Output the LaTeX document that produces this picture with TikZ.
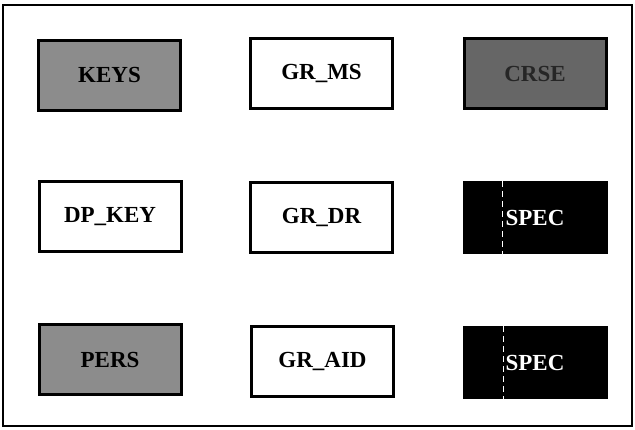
\documentclass[tikz,border=0pt]{standalone}
\usepackage{fontspec}
\setmainfont{Liberation Serif}
\usepackage{tikz}

\begin{document}
\begin{tikzpicture}[x=0.5pt, y=-0.5pt,
  block/.style={draw=black, line width=1.5pt, minimum width=71pt, minimum height=35pt,
    inner sep=0pt, font=\fontsize{11.5}{13}\selectfont\bfseries},
  lightblock/.style={block, fill=black!45},
  darkblock/.style={block, fill=black!60, text=black!85},
  blackblock/.style={block, fill=black, text=white},
  seam/.style={white, densely dashed, line width=0.5pt}]

\useasboundingbox (0,0) rectangle (635,429);

% Outer frame
\draw[line width=1pt] (3,5) rectangle (632,426);

% Top row
\node[lightblock] (keys) at (109.5,75) {KEYS};
\node[block] (grms) at (321.5,73) {GR\_MS};
\node[darkblock] (crse) at (535,73.5) {CRSE};

% Middle row
\node[block] (dpkey) at (110,216.5) {DP\_KEY};
\node[block] (grdr) at (321.5,217) {GR\_DR};
\node[blackblock] (specA) at (535,217.5) {SPEC};
\draw[seam] ([xshift=20pt]specA.north west) -- ([xshift=20pt]specA.south west);

% Bottom row
\node[lightblock] (pers) at (110,359.5) {PERS};
\node[block] (graid) at (322.5,361) {GR\_AID};
\node[blackblock] (specB) at (535,362.5) {SPEC};
\draw[seam] ([xshift=20.5pt]specB.north west) -- ([xshift=20.5pt]specB.south west);

\end{tikzpicture}
\end{document}
